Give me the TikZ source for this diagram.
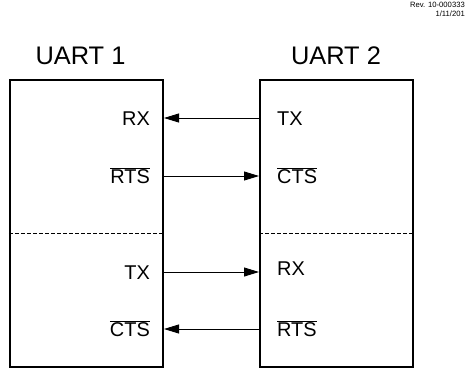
\documentclass[tikz,border=0pt]{standalone}
\usepackage{fontspec}
\setmainfont{Liberation Sans}
\usetikzlibrary{arrows.meta, positioning}
\tikzset{
  x=1bp, y=-1bp, % pixel-like units, y grows downwards
  uart/.style={draw, line width=2bp, rectangle, minimum width=153bp,
    minimum height=287bp, inner sep=0pt}, % the two UART boxes
  title/.style={font=\fontsize{25.5}{30}\selectfont, inner sep=0pt},
  sig/.style={font=\fontsize{20}{24}\selectfont, inner sep=0pt}, % pin names
  wire/.style={line width=0.9bp, -{Triangle[length=15bp, width=9bp]}},
  split/.style={dashed, dash pattern=on 4bp off 2bp, line width=0.7bp},
}
\newcommand{\actlow}[1]{$\overline{\mbox{#1}}$}
\begin{document}
\begin{tikzpicture}
  \useasboundingbox (0,0) rectangle (466,368);

  \node[font=\fontsize{7.7}{8.5}\selectfont, align=right, anchor=north east,
    inner sep=0pt] (rev) at (465,2) {Rev. 10-000333\\1/11/201};

  \node[uart] (uart1) at (86.5,223.5) {};
  \node[uart] (uart2) at (336.5,223.5) {};
  \node[title] (t1) at (80.5,56) {UART 1};
  \node[title] (t2) at (336,56) {UART 2};

  % rows of the wires
  \coordinate (r1) at (0,118);
  \coordinate (r2) at (0,176);
  \coordinate (r3) at (0,272);
  \coordinate (r4) at (0,329);
  \coordinate (rd) at (0,233);

  \node[sig, anchor=base east] (rx1)  at (150,125) {RX};
  \node[sig, anchor=base east] (rts1) at (150,183) {\actlow{RTS}};
  \node[sig, anchor=base east] (tx1)  at (150,279) {TX};
  \node[sig, anchor=base east] (cts1) at (150,336) {\actlow{CTS}};
  \node[sig, anchor=base west] (tx2)  at (277,125) {TX};
  \node[sig, anchor=base west] (cts2) at (277,183) {\actlow{CTS}};
  \node[sig, anchor=base west] (rx2)  at (277,275) {RX};
  \node[sig, anchor=base west] (rts2) at (277,336) {\actlow{RTS}};

  \draw[wire] (uart2.west |- r1) -- (uart1.east |- r1);
  \draw[wire] (uart1.east |- r2) -- (uart2.west |- r2);
  \draw[wire] (uart1.east |- r3) -- (uart2.west |- r3);
  \draw[wire] (uart2.west |- r4) -- (uart1.east |- r4);

  \draw[split] (uart1.west |- rd) -- (uart1.east |- rd);
  \draw[split] (uart2.west |- rd) -- (uart2.east |- rd);
\end{tikzpicture}
\end{document}
